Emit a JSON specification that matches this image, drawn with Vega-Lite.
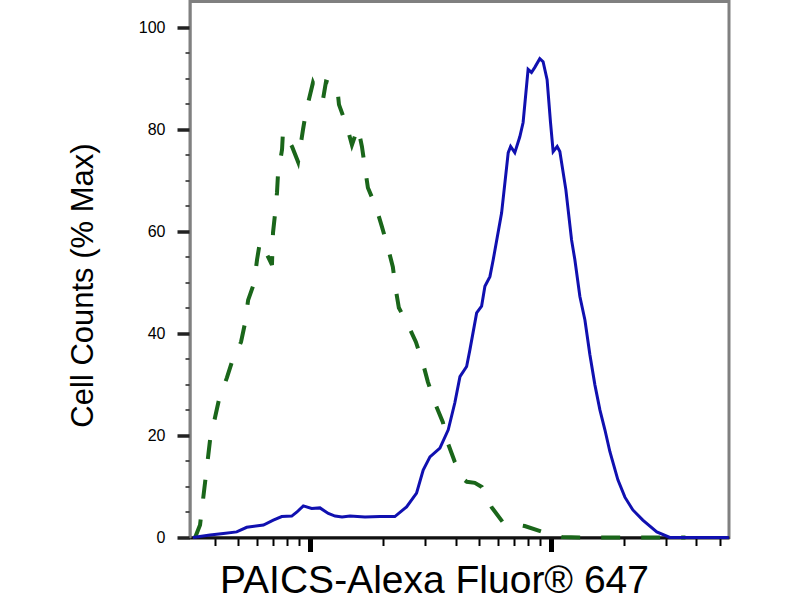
{
  "$schema": "https://vega.github.io/schema/vega-lite/v6.json",
  "width": 539,
  "height": 536,
  "autosize": {"type": "none"},
  "padding": {"left": 190, "top": 1.5, "right": 71, "bottom": 62.5},
  "background": "white",
  "config": {
    "view": {"stroke": "#808080", "strokeWidth": 3},
    "font": "Liberation Sans"
  },
  "datasets": {
    "control": [
      {"x": 332, "y": 0}, {"x": 348, "y": 2.45}, {"x": 365, "y": 10.7}, {"x": 383, "y": 19.1},
      {"x": 417, "y": 27.0}, {"x": 450, "y": 31.3}, {"x": 472, "y": 34.4}, {"x": 515, "y": 38.3},
      {"x": 535, "y": 42.0}, {"x": 551, "y": 46.5}, {"x": 583, "y": 49.8}, {"x": 600, "y": 54.4},
      {"x": 617, "y": 57.9}, {"x": 660, "y": 55.4}, {"x": 692, "y": 53.4}, {"x": 699, "y": 59.7},
      {"x": 712, "y": 63.2}, {"x": 726, "y": 67.5}, {"x": 733, "y": 71.1}, {"x": 762, "y": 76.0},
      {"x": 769, "y": 79.5}, {"x": 838, "y": 76.6}, {"x": 888, "y": 73.6}, {"x": 931, "y": 79.9},
      {"x": 958, "y": 83.4}, {"x": 1024, "y": 89.1}, {"x": 1074, "y": 86.8}, {"x": 1127, "y": 85.8},
      {"x": 1160, "y": 89.3}, {"x": 1288, "y": 88.7}, {"x": 1313, "y": 84.8}, {"x": 1417, "y": 80.5},
      {"x": 1486, "y": 76.9}, {"x": 1574, "y": 80.3}, {"x": 1635, "y": 76.6}, {"x": 1731, "y": 68.5},
      {"x": 1869, "y": 64.8}, {"x": 1979, "y": 60.9}, {"x": 2095, "y": 56.8}, {"x": 2197, "y": 53.0},
      {"x": 2261, "y": 48.5}, {"x": 2327, "y": 45.0}, {"x": 2537, "y": 41.7}, {"x": 2738, "y": 38.3},
      {"x": 2926, "y": 34.2}, {"x": 3070, "y": 30.5}, {"x": 3281, "y": 26.4}, {"x": 3543, "y": 22.6},
      {"x": 3716, "y": 18.5}, {"x": 3973, "y": 14.8}, {"x": 4248, "y": 11.7}, {"x": 4456, "y": 10.9},
      {"x": 4809, "y": 10.7}, {"x": 5142, "y": 9.9}, {"x": 5655, "y": 5.9}, {"x": 6283, "y": 3.0},
      {"x": 7047, "y": 2.6}, {"x": 7748, "y": 2.25}, {"x": 9205, "y": 1.1}, {"x": 11050, "y": 0.1},
      {"x": 13130, "y": 0}, {"x": 19250, "y": 0}, {"x": 31000, "y": 0}, {"x": 36000, "y": 0}
    ],
    "paics": [
      {"x": 325, "y": 0}, {"x": 383, "y": 0.5}, {"x": 435, "y": 0.8}, {"x": 494, "y": 1.1},
      {"x": 544, "y": 2.0}, {"x": 638, "y": 2.45}, {"x": 701, "y": 3.4}, {"x": 760, "y": 4.1},
      {"x": 836, "y": 4.2}, {"x": 879, "y": 5.0}, {"x": 934, "y": 6.2}, {"x": 1011, "y": 5.7},
      {"x": 1095, "y": 5.8}, {"x": 1186, "y": 4.7}, {"x": 1265, "y": 4.2}, {"x": 1352, "y": 4.0},
      {"x": 1459, "y": 4.2}, {"x": 1683, "y": 4.0}, {"x": 1941, "y": 4.1}, {"x": 2239, "y": 4.1},
      {"x": 2505, "y": 6.0}, {"x": 2756, "y": 8.7}, {"x": 2936, "y": 13.2}, {"x": 3132, "y": 15.8},
      {"x": 3445, "y": 17.5}, {"x": 3730, "y": 21.1}, {"x": 3973, "y": 26.4}, {"x": 4172, "y": 31.5},
      {"x": 4447, "y": 33.5}, {"x": 4590, "y": 36.8}, {"x": 4894, "y": 44.0}, {"x": 5131, "y": 45.3},
      {"x": 5296, "y": 49.2}, {"x": 5555, "y": 51.1}, {"x": 5733, "y": 54.4}, {"x": 6213, "y": 63.6},
      {"x": 6617, "y": 75.4}, {"x": 6771, "y": 76.6}, {"x": 7047, "y": 75.4}, {"x": 7392, "y": 78.5},
      {"x": 7629, "y": 81.3}, {"x": 8002, "y": 91.7}, {"x": 8266, "y": 91.1}, {"x": 8531, "y": 92.1},
      {"x": 8948, "y": 93.8}, {"x": 9235, "y": 93.2}, {"x": 9595, "y": 89.7}, {"x": 9912, "y": 81.3},
      {"x": 10166, "y": 75.6}, {"x": 10562, "y": 76.6}, {"x": 10838, "y": 75.6}, {"x": 11481, "y": 68.1},
      {"x": 12122, "y": 58.3}, {"x": 12511, "y": 54.4}, {"x": 13125, "y": 47.2}, {"x": 13772, "y": 42.6},
      {"x": 14443, "y": 35.8}, {"x": 15150, "y": 29.9}, {"x": 15892, "y": 25.0}, {"x": 16670, "y": 21.1},
      {"x": 17486, "y": 16.8}, {"x": 18874, "y": 11.3}, {"x": 20180, "y": 7.9}, {"x": 21780, "y": 5.4},
      {"x": 23950, "y": 3.4}, {"x": 27370, "y": 1.1}, {"x": 31000, "y": 0}, {"x": 54500, "y": 0}
    ]
  },
  "encoding": {
    "x": {
      "field": "x",
      "type": "quantitative",
      "scale": {"type": "log", "domain": [316.2, 54575], "nice": false},
      "axis": {
        "values": [400, 500, 600, 700, 800, 900, 1000, 2000, 3000, 4000, 5000, 6000, 7000, 8000, 9000, 10000, 20000, 30000, 40000, 50000],
        "labels": false,
        "grid": false,
        "domainColor": "#111111",
        "domainWidth": 3,
        "tickColor": "#000000",
        "tickSize": {"condition": {"test": "datum.value == 1000 || datum.value == 10000", "value": 14}, "value": 8},
        "tickWidth": {"condition": {"test": "datum.value == 1000 || datum.value == 10000", "value": 5}, "value": 2},
        "title": "PAICS-Alexa Fluor® 647",
        "titleFont": "Liberation Sans",
        "titleFontSize": 39,
        "titleFontWeight": "normal",
        "titleColor": "#000000",
        "titleX": 244,
        "titleY": 54.5,
        "titleAlign": "center",
        "titleBaseline": "alphabetic"
      }
    },
    "y": {
      "field": "y",
      "type": "quantitative",
      "scale": {"domain": [0, 105], "nice": false},
      "axis": {
        "values": [0, 5, 10, 15, 20, 25, 30, 35, 40, 45, 50, 55, 60, 65, 70, 75, 80, 85, 90, 95, 100],
        "labelExpr": "datum.value % 20 == 0 ? datum.label : ''",
        "labelFont": "Liberation Sans",
        "labelFontSize": 16,
        "labelColor": "#000000",
        "labelPadding": 12,
        "grid": false,
        "domainColor": "#808080",
        "domainWidth": 2,
        "tickColor": "#222222",
        "tickSize": {"condition": {"test": "datum.value % 20 == 0", "value": 13}, "value": 5},
        "tickWidth": {"condition": {"test": "datum.value % 20 == 0", "value": 3.5}, "value": 1.5},
        "title": "Cell Counts (% Max)",
        "titleFont": "Liberation Sans",
        "titleFontSize": 31,
        "titleFontWeight": "normal",
        "titleColor": "#000000",
        "titleAngle": -90,
        "titleX": -107,
        "titleY": 283.5,
        "titleAlign": "center",
        "titleBaseline": "middle"
      }
    }
  },
  "layer": [
    {
      "data": {"name": "control"},
      "mark": {"type": "line", "color": "#1a661a", "strokeWidth": 4, "strokeDash": [19, 21], "interpolate": "linear"}
    },
    {
      "data": {"name": "paics"},
      "mark": {"type": "line", "color": "#1010b0", "strokeWidth": 3, "interpolate": "linear"}
    }
  ]
}
